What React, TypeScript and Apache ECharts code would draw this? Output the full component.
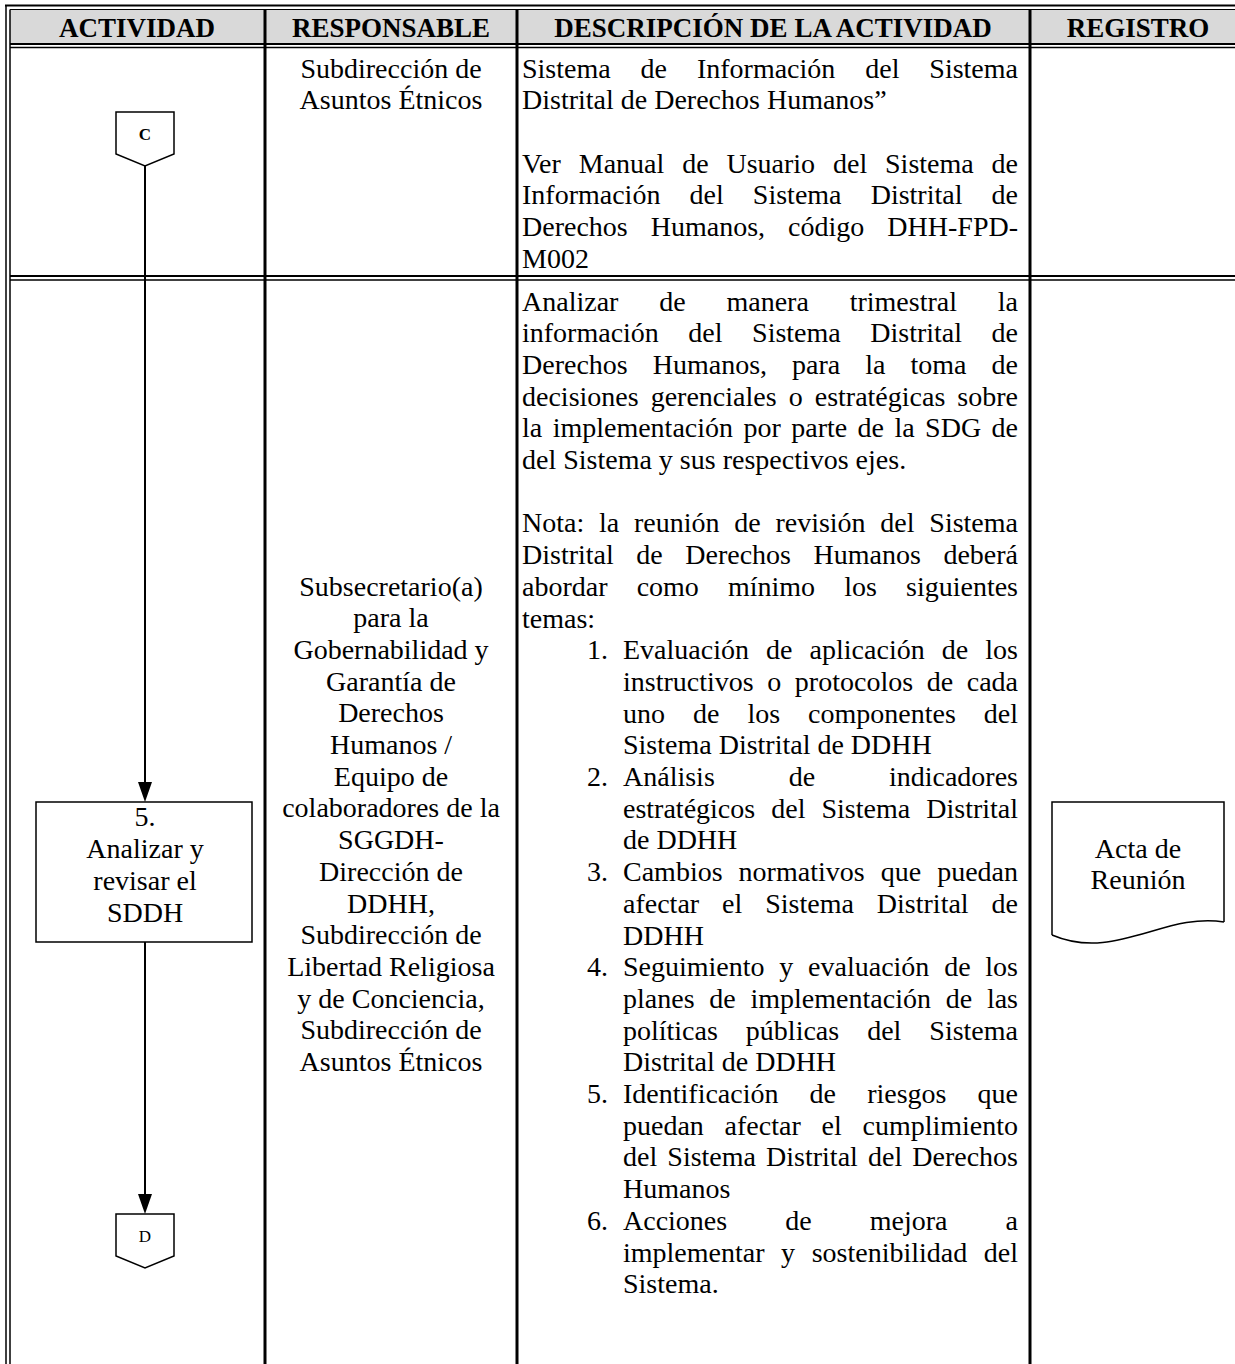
import React, { useEffect, useRef } from "react";
import * as echarts from "echarts";

// ---------- content ----------
const headers = ["ACTIVIDAD", "RESPONSABLE", "DESCRIPCIÓN DE LA ACTIVIDAD", "REGISTRO"];
const connectorTop = "C";
const connectorBottom = "D";
const activityBox = ["5.", "Analizar y", "revisar el", "SDDH"];
const registroDoc = ["Acta de", "Reunión"];
const responsableRow1 = ["Subdirección de", "Asuntos Étnicos"];
const responsableRow2 = [
  "Subsecretario(a)",
  "para la",
  "Gobernabilidad y",
  "Garantía de",
  "Derechos",
  "Humanos /",
  "Equipo de",
  "colaboradores de la",
  "SGGDH-",
  "Dirección de",
  "DDHH,",
  "Subdirección de",
  "Libertad Religiosa",
  "y de Conciencia,",
  "Subdirección de",
  "Asuntos Étnicos",
];

type DescLine = { t: string; j?: boolean; n?: string; ind?: boolean };

const descRow1: DescLine[] = [
  { t: "Sistema de Información del Sistema", j: true },
  { t: "Distrital de Derechos Humanos”" },
  { t: "" },
  { t: "Ver Manual de Usuario del Sistema de", j: true },
  { t: "Información del Sistema Distrital de", j: true },
  { t: "Derechos Humanos, código DHH-FPD-", j: true },
  { t: "M002" },
];

const descRow2: DescLine[] = [
  { t: "Analizar de manera trimestral la", j: true },
  { t: "información del Sistema Distrital de", j: true },
  { t: "Derechos Humanos, para la toma de", j: true },
  { t: "decisiones gerenciales o estratégicas sobre", j: true },
  { t: "la implementación por parte de la SDG de", j: true },
  { t: "del Sistema y sus respectivos ejes." },
  { t: "" },
  { t: "Nota: la reunión de revisión del Sistema", j: true },
  { t: "Distrital de Derechos Humanos deberá", j: true },
  { t: "abordar como mínimo los siguientes", j: true },
  { t: "temas:" },
  { n: "1.", t: "Evaluación de aplicación de los", j: true },
  { ind: true, t: "instructivos o protocolos de cada", j: true },
  { ind: true, t: "uno de los componentes del", j: true },
  { ind: true, t: "Sistema Distrital de DDHH" },
  { n: "2.", t: "Análisis de indicadores", j: true },
  { ind: true, t: "estratégicos del Sistema Distrital", j: true },
  { ind: true, t: "de DDHH" },
  { n: "3.", t: "Cambios normativos que puedan", j: true },
  { ind: true, t: "afectar el Sistema Distrital de", j: true },
  { ind: true, t: "DDHH" },
  { n: "4.", t: "Seguimiento y evaluación de los", j: true },
  { ind: true, t: "planes de implementación de las", j: true },
  { ind: true, t: "políticas públicas del Sistema", j: true },
  { ind: true, t: "Distrital de DDHH" },
  { n: "5.", t: "Identificación de riesgos que", j: true },
  { ind: true, t: "puedan afectar el cumplimiento", j: true },
  { ind: true, t: "del Sistema Distrital del Derechos", j: true },
  { ind: true, t: "Humanos" },
  { n: "6.", t: "Acciones de mejora a", j: true },
  { ind: true, t: "implementar y sostenibilidad del", j: true },
  { ind: true, t: "Sistema." },
];

// ---------- layout ----------
const W = 1235;
const H = 1364;
const FAMILY = '"Liberation Serif", "Times New Roman", serif';
const SIZE = 28;
const HEAD_SIZE = 27;
const LINE = 31.7;

const X_OUT = 6;
const X_IN = 10;
const COLS = [265, 517, 1030];
const HEAD_CX = [137, 391, 773, 1138];
const Y_TOP_OUT = 5.5;
const Y_TOP_IN = 9.5;
const Y_HEAD_B1 = 44;
const Y_HEAD_B2 = 47.5;
const Y_ROW_B1 = 276;
const Y_ROW_B2 = 280;

const ROW1_Y0 = 68;
const ROW2_Y0 = 301;
const RESP2_Y0 = 586;
const RESP_CX = 391;
const DESC_X = 522;
const DESC_R = 1018;
const NUM_X = 587;
const LIST_X = 623;

const FLOW_CX = 145;
const CONN_W = 58;
const C_TOP = 112;
const D_TOP = 1214;
const CONN_SH = 42;
const CONN_TIP = 54;
const BOX = { x: 36, y: 802, w: 216, h: 140 };
const BOX_TEXT_Y0 = 816;
const BOX_LINE = 32;
const DOC = { l: 1052, r: 1224, t: 802, bl: 935, br: 922 };
const DOC_CX = 1138;
const DOC_TEXT_Y0 = 848;

export default function App() {
  const ref = useRef<HTMLDivElement>(null);

  useEffect(() => {
    const el = ref.current;
    if (!el) return;
    const chart = echarts.init(el, null, { renderer: "svg" });
    const canvas = document.createElement("canvas");
    const ctx = canvas.getContext("2d")!;
    const bodyFont = `${SIZE}px ${FAMILY}`;
    ctx.font = bodyFont;

    const els: any[] = [];
    const line = (x1: number, y1: number, x2: number, y2: number, lw: number, z = 5) =>
      els.push({ type: "line", z, shape: { x1, y1, x2, y2 }, style: { stroke: "#000", lineWidth: lw } });
    const text = (t: string, x: number, y: number, align: string, font = bodyFont, z = 10) =>
      els.push({
        type: "text",
        z,
        x,
        y,
        style: { text: t, font, fill: "#000", align, verticalAlign: "middle", textAlign: align, textVerticalAlign: "middle" },
      });

    // header fill
    els.push({ type: "rect", z: 1, shape: { x: X_IN, y: Y_TOP_IN, width: W - X_IN, height: Y_HEAD_B1 - Y_TOP_IN }, style: { fill: "#d9d9d9" } });

    // table frame
    line(X_OUT - 1, Y_TOP_OUT, W, Y_TOP_OUT, 2);
    line(X_IN, Y_TOP_IN, W, Y_TOP_IN, 1);
    line(X_OUT, Y_TOP_OUT, X_OUT, H, 1.5);
    line(X_IN, Y_TOP_IN, X_IN, H, 1.5);
    line(X_IN, Y_HEAD_B1, W, Y_HEAD_B1, 2);
    line(X_IN, Y_HEAD_B2, W, Y_HEAD_B2, 1.5);
    line(X_IN, Y_ROW_B1, W, Y_ROW_B1, 2);
    line(X_IN, Y_ROW_B2, W, Y_ROW_B2, 1.5);
    COLS.forEach((cx) => line(cx, Y_TOP_IN, cx, H, 3));

    // headers
    headers.forEach((h, i) => text(h, HEAD_CX[i], (Y_TOP_IN + Y_HEAD_B1) / 2 + 1, "center", `bold ${HEAD_SIZE}px ${FAMILY}`));

    // responsable
    responsableRow1.forEach((t, i) => text(t, RESP_CX, ROW1_Y0 + i * LINE, "center"));
    responsableRow2.forEach((t, i) => text(t, RESP_CX, RESP2_Y0 + i * LINE, "center"));

    // description lines
    const drawDesc = (d: DescLine, y: number) => {
      if (!d.t) return;
      let x0 = DESC_X;
      if (d.n) {
        text(d.n, NUM_X, y, "left");
        x0 = LIST_X;
      } else if (d.ind) x0 = LIST_X;
      const words = d.t.split(" ");
      if (!d.j || words.length < 2) {
        text(d.t, x0, y, "left");
        return;
      }
      const widths = words.map((w) => ctx.measureText(w).width);
      const total = widths.reduce((a, b) => a + b, 0);
      const gap = (DESC_R - x0 - total) / (words.length - 1);
      let x = x0;
      words.forEach((w, i) => {
        text(w, x, y, "left");
        x += widths[i] + gap;
      });
    };
    descRow1.forEach((d, i) => drawDesc(d, ROW1_Y0 + i * LINE));
    descRow2.forEach((d, i) => drawDesc(d, ROW2_Y0 + i * LINE));

    // connectors
    const connector = (label: string, top: number, bold: boolean) => {
      const x0 = FLOW_CX - CONN_W / 2;
      const x1 = FLOW_CX + CONN_W / 2;
      els.push({
        type: "polygon",
        z: 6,
        shape: { points: [[x0, top], [x1, top], [x1, top + CONN_SH], [FLOW_CX, top + CONN_TIP], [x0, top + CONN_SH]] },
        style: { fill: "#fff", stroke: "#000", lineWidth: 1.5 },
      });
      text(label, FLOW_CX, top + 22, "center", `${bold ? "bold " : ""}17px ${FAMILY}`);
    };
    connector(connectorTop, C_TOP, true);
    connector(connectorBottom, D_TOP, false);

    const arrow = (yFrom: number, yTip: number) => {
      line(FLOW_CX, yFrom, FLOW_CX, yTip - 18, 2, 4);
      els.push({
        type: "polygon",
        z: 6,
        shape: { points: [[FLOW_CX - 7, yTip - 20], [FLOW_CX + 7, yTip - 20], [FLOW_CX, yTip]] },
        style: { fill: "#000" },
      });
    };
    arrow(C_TOP + CONN_TIP, BOX.y);
    arrow(BOX.y + BOX.h, D_TOP);

    // activity box
    els.push({ type: "rect", z: 6, shape: { x: BOX.x, y: BOX.y, width: BOX.w, height: BOX.h }, style: { fill: "#fff", stroke: "#000", lineWidth: 1.5 } });
    activityBox.forEach((t, i) => text(t, FLOW_CX, BOX_TEXT_Y0 + i * BOX_LINE, "center"));

    // document shape
    els.push({
      type: "polyline",
      z: 6,
      shape: { points: [[DOC.l, DOC.bl], [DOC.l, DOC.t], [DOC.r, DOC.t], [DOC.r, DOC.br]] },
      style: { stroke: "#000", lineWidth: 1.5, fill: null },
    });
    els.push({
      type: "bezierCurve",
      z: 6,
      shape: { x1: DOC.r, y1: DOC.br, cpx1: 1165, cpy1: 912, cpx2: 1115, cpy2: 962, x2: DOC.l, y2: DOC.bl },
      style: { stroke: "#000", lineWidth: 1.5, fill: null },
    });
    registroDoc.forEach((t, i) => text(t, DOC_CX, DOC_TEXT_Y0 + i * LINE, "center"));

    chart.setOption({ animation: false, graphic: { elements: els } });
    return () => chart.dispose();
  }, []);

  return <div ref={ref} style={{ position: "absolute", left: 0, top: 0, width: W, height: H, background: "#fff" }} />;
}
